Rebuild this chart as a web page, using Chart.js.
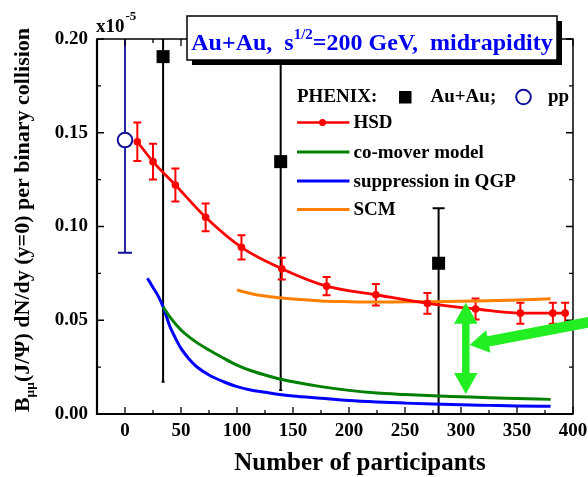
<!DOCTYPE html>
<html><head><meta charset="utf-8">
<script src="https://cdn.jsdelivr.net/npm/chart.js@4.4.1/dist/chart.umd.min.js"></script>
<style>html,body{margin:0;padding:0;background:#fff;}</style>
</head><body>
<canvas id="c" width="588" height="477"></canvas>
<script>
// ---------- data ----------
const X_TICKS = [0, 50, 100, 150, 200, 250, 300, 350, 400];
const Y_TICKS = [0.00, 0.05, 0.10, 0.15, 0.20];

const HSD_X   = [11, 25, 45, 72, 104, 140, 180, 224, 270, 313, 353, 382, 393];
const HSD_Y   = [0.1452, 0.1346, 0.1221, 0.1049, 0.0889, 0.0775, 0.0682, 0.0636, 0.0590, 0.0560, 0.0538, 0.0538, 0.0538];
const HSD_ERR = [0.0103, 0.0095, 0.0088, 0.0074, 0.0065, 0.0058, 0.0049, 0.0057, 0.0055, 0.0056, 0.0056, 0.0056, 0.0056];

const COMOVER_X = [34, 40, 50, 62, 75, 88, 100, 112, 125, 138, 150, 175, 200, 225, 250, 275, 300, 325, 350, 380];
const COMOVER_Y = [0.0572, 0.0518, 0.0448, 0.0390, 0.0341, 0.0298, 0.0261, 0.0232, 0.0208, 0.0187, 0.0172, 0.0146, 0.0126, 0.0112, 0.0104, 0.0097, 0.0092, 0.0087, 0.0083, 0.0078];

const QGP_X = [20, 25, 30, 34, 40, 45, 50, 57, 64, 75, 88, 100, 112, 125, 138, 150, 175, 200, 225, 250, 275, 300, 325, 350, 380];
const QGP_Y = [0.0724, 0.0675, 0.0625, 0.0572, 0.0468, 0.0405, 0.0350, 0.0295, 0.0252, 0.0208, 0.0172, 0.0146, 0.0128, 0.0116, 0.0104, 0.0096, 0.0084, 0.0072, 0.0064, 0.0058, 0.0053, 0.0049, 0.0046, 0.0043, 0.0041];

const SCM_X = [100, 112, 125, 138, 150, 175, 200, 225, 250, 275, 300, 325, 350, 380];
const SCM_Y = [0.0661, 0.0643, 0.0629, 0.0620, 0.0613, 0.0603, 0.0599, 0.0597, 0.0598, 0.0599, 0.0601, 0.0604, 0.0608, 0.0615];

const AUAU_X  = [34, 139, 280];
const AUAU_Y  = [0.1906, 0.1346, 0.0804];
const AUAU_LO = [0.0172, 0.0128, -0.02];
const AUAU_HI = [0.24, 0.24, 0.1097];

const PP_X  = [0];
const PP_Y  = [0.1461];
const PP_LO = [0.086];
const PP_HI = [0.24];

// annotation arrows (data units)
const ARROW_V = {x: 304.3, yTop: 0.0594, yBottom: 0.0107};
const ARROW_D = {x0: 418, y0: 0.0494, x1: 307.7, y1: 0.0368};

// ---------- helpers ----------
const FONT = "'Liberation Serif', 'Times New Roman', serif";
const pts = (xs, ys) => xs.map((x, i) => ({x: x, y: ys[i]}));
const RED = '#ff0000', GREEN = '#008000', BLUE = '#0000ff', ORANGE = '#ff8000', NAVY = '#10109a', LIME = '#22ee22';

function clipArea(ctx, a) { ctx.beginPath(); ctx.rect(a.left, a.top, a.right - a.left, a.bottom - a.top); ctx.clip(); }

function vbar(ctx, X, Y, x, lo, hi, capTop, capBot) {
  const px = X.getPixelForValue(x), pl = Y.getPixelForValue(lo), ph = Y.getPixelForValue(hi);
  ctx.beginPath(); ctx.moveTo(px, pl); ctx.lineTo(px, ph);
  if (capTop) { ctx.moveTo(px - capTop / 2, ph); ctx.lineTo(px + capTop / 2, ph); }
  if (capBot) { ctx.moveTo(px - capBot / 2, pl); ctx.lineTo(px + capBot / 2, pl); }
  ctx.stroke();
}

const errorBars = {
  id: 'errorBars',
  beforeDatasetsDraw(chart) {
    const {ctx, chartArea} = chart, X = chart.scales.x, Y = chart.scales.y;
    ctx.save(); clipArea(ctx, chartArea);
    ctx.lineCap = 'butt';
    ctx.strokeStyle = '#000'; ctx.lineWidth = 2;
    AUAU_X.forEach((x, i) => vbar(ctx, X, Y, x, AUAU_LO[i], AUAU_HI[i], 12, 3));
    ctx.strokeStyle = NAVY; ctx.lineWidth = 1.8;
    PP_X.forEach((x, i) => vbar(ctx, X, Y, x, PP_LO[i], PP_HI[i], 14, 14));
    ctx.strokeStyle = RED; ctx.lineWidth = 2;
    HSD_X.forEach((x, i) => vbar(ctx, X, Y, x, HSD_Y[i] - HSD_ERR[i], HSD_Y[i] + HSD_ERR[i], 8, 8));
    ctx.restore();
  }
};

function arrowPoly(ctx, x0, y0, x1, y1, shaftW, headW, headL, twoHeads) {
  const dx = x1 - x0, dy = y1 - y0, L = Math.hypot(dx, dy);
  const ux = dx / L, uy = dy / L, nx = -uy, ny = ux;
  const P = (s, t) => [x0 + ux * s + nx * t, y0 + uy * s + ny * t];
  const sw = shaftW / 2, hw = headW / 2;
  let poly;
  if (twoHeads) {
    poly = [P(0, 0), P(headL, hw), P(headL, sw), P(L - headL, sw), P(L - headL, hw), P(L, 0),
            P(L - headL, -hw), P(L - headL, -sw), P(headL, -sw), P(headL, -hw)];
  } else {
    poly = [P(0, sw), P(L - headL, sw), P(L - headL, hw), P(L, 0), P(L - headL, -hw), P(L - headL, -sw), P(0, -sw)];
  }
  ctx.beginPath(); poly.forEach((p, i) => i ? ctx.lineTo(p[0], p[1]) : ctx.moveTo(p[0], p[1]));
  ctx.closePath(); ctx.fill();
}

const decorations = {
  id: 'decorations',
  afterDraw(chart) {
    const {ctx, chartArea: a} = chart, X = chart.scales.x, Y = chart.scales.y;
    ctx.save();
    // inward ticks
    ctx.strokeStyle = '#000'; ctx.lineWidth = 1.3;
    ctx.beginPath();
    for (let v = -25; v <= 400; v += 25) {
      const p = X.getPixelForValue(v), len = (v % 50 === 0) ? 7 : 4;
      ctx.moveTo(p, a.bottom); ctx.lineTo(p, a.bottom - len);
      ctx.moveTo(p, a.top); ctx.lineTo(p, a.top + len);
    }
    for (let k = 0; k <= 8; k++) {
      const v = k * 0.025, p = Y.getPixelForValue(v), len = (k % 2 === 0) ? 7 : 4;
      ctx.moveTo(a.left, p); ctx.lineTo(a.left + len, p);
      ctx.moveTo(a.right, p); ctx.lineTo(a.right - len, p);
    }
    ctx.stroke();
    // frame
    ctx.lineWidth = 1.5; ctx.strokeRect(a.left, a.top, a.right - a.left, a.bottom - a.top);
    ctx.lineWidth = 2.2;
    ctx.beginPath(); ctx.moveTo(a.left, a.top); ctx.lineTo(a.left, a.bottom); ctx.lineTo(a.right, a.bottom); ctx.stroke();

    // green arrows
    ctx.fillStyle = LIME;
    arrowPoly(ctx, X.getPixelForValue(ARROW_V.x), Y.getPixelForValue(ARROW_V.yTop),
              X.getPixelForValue(ARROW_V.x), Y.getPixelForValue(ARROW_V.yBottom), 7.5, 23.5, 21, true);
    arrowPoly(ctx, X.getPixelForValue(ARROW_D.x0), Y.getPixelForValue(ARROW_D.y0),
              X.getPixelForValue(ARROW_D.x1), Y.getPixelForValue(ARROW_D.y1), 10.5, 23, 19, false);

    // x10^-5
    ctx.fillStyle = '#000'; ctx.textBaseline = 'alphabetic'; ctx.textAlign = 'left';
    ctx.font = 'bold 19px ' + FONT;
    ctx.fillText('x10', 96, 31.5);
    const w10 = ctx.measureText('x10').width;
    ctx.font = 'bold 13px ' + FONT;
    ctx.fillText('-5', 96 + w10 + 1, 19.5);

    // x axis title
    ctx.font = 'bold 25px ' + FONT; ctx.textAlign = 'center';
    ctx.fillText('Number of participants', 360, 470);
    ctx.textAlign = 'left';

    // y axis title with subscript
    const parts = [['B', 22, 0], ['\u03bc\u03bc', 13.5, 5], ['(J/\u03a8) dN/dy (y=0) per binary collision', 22, 0]];
    let tot = 0;
    parts.forEach(p => { ctx.font = 'bold ' + p[1] + 'px ' + FONT; p.push(ctx.measureText(p[0]).width); tot += p[3]; });
    ctx.save(); ctx.translate(29, 220); ctx.rotate(-Math.PI / 2);
    let cx = -tot / 2;
    parts.forEach(p => { ctx.font = 'bold ' + p[1] + 'px ' + FONT; ctx.fillText(p[0], cx, p[2]); cx += p[3]; });
    ctx.restore();

    // legend
    ctx.font = 'bold 19px ' + FONT; ctx.textBaseline = 'middle'; ctx.fillStyle = '#000';
    ctx.fillText('PHENIX:', 297, 97);
    ctx.fillRect(399, 91, 12.5, 12.5);
    ctx.fillText('Au+Au;', 430.5, 97);
    ctx.beginPath(); ctx.arc(523.5, 97, 7.3, 0, Math.PI * 2); ctx.fillStyle = '#fff'; ctx.fill();
    ctx.strokeStyle = NAVY; ctx.lineWidth = 2; ctx.stroke();
    ctx.fillStyle = '#000'; ctx.fillText('pp', 548, 97);
    const rows = [['HSD', RED, 122.5, true], ['co-mover model', GREEN, 152, false],
                  ['suppression in QGP', BLUE, 181, false], ['SCM', ORANGE, 209.5, false]];
    rows.forEach(r => {
      ctx.strokeStyle = r[1]; ctx.lineWidth = r[3] ? 2.5 : 3;
      ctx.beginPath(); ctx.moveTo(297, r[2]); ctx.lineTo(349.5, r[2]); ctx.stroke();
      if (r[3]) { ctx.beginPath(); ctx.arc(322.5, r[2], 3.5, 0, Math.PI * 2); ctx.fillStyle = RED; ctx.fill(); }
      ctx.fillStyle = '#000'; ctx.fillText(r[0], 353.5, r[2] + 1);
    });

    // title box
    const bx = 187, by = 16, bw = 370, bh = 44;
    ctx.fillStyle = '#000'; ctx.fillRect(bx + 5, by + 5, bw, bh);
    ctx.fillStyle = '#fff'; ctx.fillRect(bx, by, bw, bh);
    ctx.strokeStyle = '#000'; ctx.lineWidth = 1.5; ctx.strokeRect(bx, by, bw, bh);
    const tparts = [['Au+Au,  s', 24, 0], ['1/2', 15, -11], ['=200 GeV,  midrapidity', 24, 0]];
    let tw = 0;
    tparts.forEach(p => { ctx.font = 'bold ' + p[1] + 'px ' + FONT; p.push(ctx.measureText(p[0]).width); tw += p[3]; });
    let tx = bx + (bw - tw) / 2;
    ctx.fillStyle = '#0000ee'; ctx.textBaseline = 'alphabetic';
    tparts.forEach(p => { ctx.font = 'bold ' + p[1] + 'px ' + FONT; ctx.fillText(p[0], tx, 50 + p[2]); tx += p[3]; });
    ctx.restore();
  }
};

const lineDS = (label, xs, ys, color) => ({
  label, data: pts(xs, ys), showLine: true, borderColor: color, backgroundColor: color,
  borderWidth: 3, pointRadius: 0, cubicInterpolationMode: 'monotone', fill: false
});

new Chart(document.getElementById('c'), {
  type: 'scatter',
  data: {
    datasets: [
      {label: 'PHENIX Au+Au', data: pts(AUAU_X, AUAU_Y), pointStyle: 'rect', pointRadius: 9.2,
       backgroundColor: '#000', borderColor: '#000', borderWidth: 0, showLine: false},
      {label: 'PHENIX pp', data: pts(PP_X, PP_Y), pointStyle: 'circle', pointRadius: 7.3,
       backgroundColor: '#fff', borderColor: NAVY, borderWidth: 2, showLine: false},
      {label: 'HSD', data: pts(HSD_X, HSD_Y), showLine: true, borderColor: RED, backgroundColor: RED,
       borderWidth: 2.8, pointRadius: 3.8, pointBorderWidth: 0, cubicInterpolationMode: 'monotone'},
      lineDS('SCM', SCM_X, SCM_Y, ORANGE),
      lineDS('co-mover model', COMOVER_X, COMOVER_Y, GREEN),
      lineDS('suppression in QGP', QGP_X, QGP_Y, BLUE)
    ]
  },
  options: {
    responsive: false, animation: false, devicePixelRatio: 1,
    layout: {padding: {top: 39, right: 15, left: 0, bottom: 0}},
    plugins: {legend: {display: false}, tooltip: {enabled: false}, title: {display: false}},
    scales: {
      x: {
        type: 'linear', min: -25, max: 400,
        afterBuildTicks: s => { s.ticks = X_TICKS.map(v => ({value: v})); },
        afterFit: s => { s.height = 63; s.paddingLeft = 0; s.paddingRight = 0; },
        grid: {display: false, drawTicks: false}, border: {display: false},
        ticks: {color: '#000', font: {family: FONT, size: 19, weight: 'bold'}, padding: 6, maxRotation: 0}
      },
      y: {
        type: 'linear', min: 0, max: 0.2,
        afterBuildTicks: s => { s.ticks = Y_TICKS.map(v => ({value: v})); },
        afterFit: s => { s.width = 97; s.paddingTop = 0; s.paddingBottom = 0; },
        grid: {display: false, drawTicks: false}, border: {display: false},
        ticks: {color: '#000', font: {family: FONT, size: 19, weight: 'bold'}, padding: 9,
                callback: v => Number(v).toFixed(2)}
      }
    }
  },
  plugins: [errorBars, decorations]
});
</script>
</body></html>
